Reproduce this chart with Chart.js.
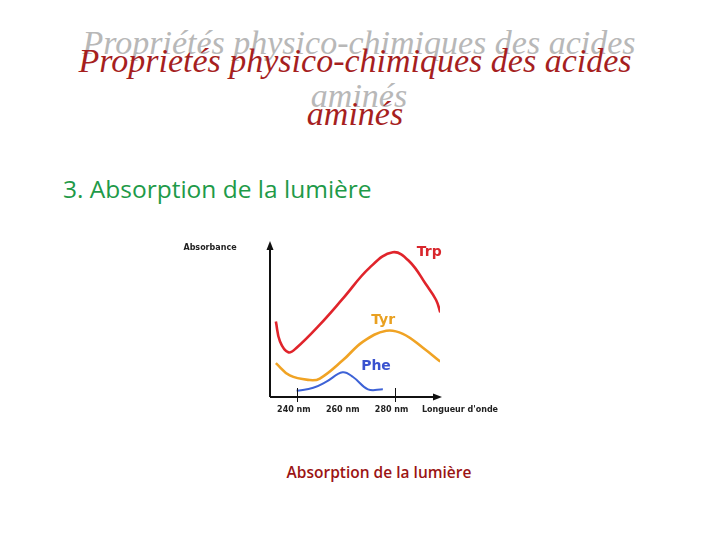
<!DOCTYPE html>
<html><head><meta charset="utf-8">
<script src="https://cdn.jsdelivr.net/npm/chart.js@4.4.1/dist/chart.umd.min.js"></script>
<style>
html,body{margin:0;padding:0;background:#fff;width:720px;height:540px;overflow:hidden;position:relative;}
.t{position:absolute;white-space:nowrap;}
#shadow1,#title1{width:720px;text-align:center;font-family:"Liberation Serif","DejaVu Serif",serif;font-style:italic;font-size:34px;line-height:53px;}
#shadow1{left:-1px;top:16px;color:#b8b8b8;}
#title1{left:-5px;top:34px;color:#a61f1f;}
#sub{left:63px;top:172px;font-family:"Open Sans",sans-serif;font-size:24.5px;color:#1e9a48;}
#cap{left:0;width:758px;text-align:center;top:461px;font-family:"Open Sans",sans-serif;font-weight:600;font-size:15.5px;color:#9b1414;}
canvas{position:absolute;left:0;top:0;}
</style></head>
<body>
<div class="t" id="shadow1">Propriétés physico-chimiques des acides<br>aminés</div>
<div class="t" id="title1">Proprietés physico-chimiques des acides<br>aminés</div>
<div class="t" id="sub">3. Absorption de la lumière</div>
<div class="t" id="cap">Absorption de la lumière</div>
<canvas id="c" width="720" height="540"></canvas>
<script>
const trpWl  = [231.4,233.1,236.5,239.9,249.4,258.9,269.8,279.3,286.1,292.9,297.0,298.7];
const trpAbs = [0.49,0.36,0.29,0.32,0.47,0.64,0.84,0.94,0.88,0.73,0.63,0.55];
const tyrWl  = [231.4,237.1,245.3,249.4,258.9,267.1,276.6,283.4,291.6,298.7];
const tyrAbs = [0.22,0.14,0.11,0.12,0.24,0.36,0.43,0.41,0.32,0.23];
const pheWl  = [239.9,246.7,252.1,258.7,263.0,269.1,275.2];
const pheAbs = [0.04,0.06,0.10,0.16,0.13,0.05,0.05];
const seriesNames = ['Trp','Tyr','Phe'];
const tickValues = [240,260,280];
const tickLabels = ['240 nm','260 nm','280 nm'];
const tickMarks = [240,280];
const xTitle = "Longueur d'onde";
const yTitle = 'Absorbance';
const labelPos = [[294.2,0.94],[275.3,0.5],[272.4,0.2]];

const colors = ['#e0242b','#f0a324','#3d62d6'];
const labelColors = ['#d8262c','#e9a020','#3a52cf'];
const toPts = (xs,ys)=>xs.map((x,i)=>({x:x,y:ys[i]}));

const axesPlugin = {
  id:'axesPlugin',
  afterDatasetsDraw(chart){
    const ctx=chart.ctx, xs=chart.scales.x, ys=chart.scales.y;
    const x0=xs.left, y0=ys.bottom, x1=xs.right, yTop=ys.top;
    ctx.save();
    ctx.strokeStyle='#111'; ctx.fillStyle='#111'; ctx.lineWidth=2;
    ctx.beginPath(); ctx.moveTo(x0,y0); ctx.lineTo(x0,yTop+4); ctx.stroke();
    ctx.beginPath(); ctx.moveTo(x0,y0); ctx.lineTo(x1-4,y0); ctx.stroke();
    ctx.beginPath(); ctx.moveTo(x0,yTop-2); ctx.lineTo(x0-3.5,yTop+7); ctx.lineTo(x0+3.5,yTop+7); ctx.closePath(); ctx.fill();
    ctx.beginPath(); ctx.moveTo(x1+2,y0); ctx.lineTo(x1-7,y0-3.5); ctx.lineTo(x1-7,y0+3.5); ctx.closePath(); ctx.fill();
    ctx.lineWidth=1;
    tickMarks.forEach(v=>{const px=Math.round(xs.getPixelForValue(v))+0.5; ctx.beginPath(); ctx.moveTo(px,y0-9); ctx.lineTo(px,y0+5); ctx.stroke();});
    ctx.font='bold 8px "DejaVu Sans",sans-serif'; ctx.textAlign='center'; ctx.textBaseline='middle';
    ctx.fillStyle='#222';
    tickValues.forEach((v,i)=>{ctx.fillText(tickLabels[i], xs.getPixelForValue(v)-3, y0+13);});
    ctx.fillText(xTitle, x1+20, y0+13);
    ctx.fillText(yTitle, x0-60, yTop+5);
    ctx.font='bold 14px "DejaVu Sans",sans-serif';
    seriesNames.forEach((n,i)=>{ctx.fillStyle=labelColors[i]; ctx.fillText(n, xs.getPixelForValue(labelPos[i][0]), ys.getPixelForValue(labelPos[i][1]));});
    ctx.restore();
  }
};

new Chart(document.getElementById('c'),{
  type:'line',
  data:{datasets:[
    {label:seriesNames[0],data:toPts(trpWl,trpAbs),borderColor:colors[0],borderWidth:2.6,pointRadius:0,tension:0.4,fill:false},
    {label:seriesNames[1],data:toPts(tyrWl,tyrAbs),borderColor:colors[1],borderWidth:2.6,pointRadius:0,tension:0.4,fill:false},
    {label:seriesNames[2],data:toPts(pheWl,pheAbs),borderColor:colors[2],borderWidth:2,pointRadius:0,tension:0.4,fill:false}
  ]},
  options:{
    responsive:false,animation:false,
    layout:{padding:{left:270,right:280,top:243,bottom:143}},
    plugins:{legend:{display:false},tooltip:{enabled:false}},
    scales:{
      x:{type:'linear',min:229,max:298.6,display:false},
      y:{type:'linear',min:0,max:1,display:false}
    }
  },
  plugins:[axesPlugin]
});
</script>
</body></html>
